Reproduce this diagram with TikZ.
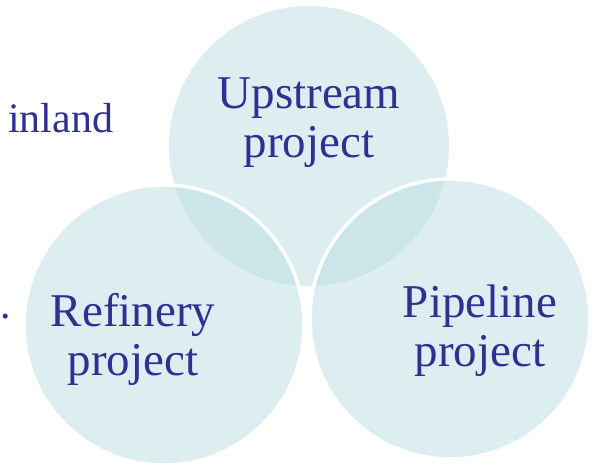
\documentclass[tikz,border=0pt]{standalone}
\usepackage{fontspec}
\setmainfont{Liberation Serif}
\definecolor{circfill}{HTML}{DCEEF0}
\definecolor{circover}{HTML}{CBE5E8}
\definecolor{txtblue}{HTML}{2E3192}
\begin{document}
\begin{tikzpicture}[x=1pt,y=-1pt,
  lbl/.style={inner sep=0pt, anchor=base, text=txtblue, font=\fontsize{47}{49}\selectfont},
  sidetxt/.style={inner sep=0pt, anchor=base west, text=txtblue, font=\fontsize{42}{46}\selectfont},
  ring/.style={draw=white, line width=3.5pt}]
\useasboundingbox (0,0) rectangle (594,467);
% circles
\fill[circfill] (309,146) circle[radius=140pt];
\fill[circfill] (164,325) circle[radius=140pt];
\fill[circfill] (450,319) circle[radius=140pt];
% overlaps
\begin{scope}
  \clip (309,146) circle[radius=140pt];
  \fill[circover] (164,325) circle[radius=140pt];
  \fill[circover] (450,319) circle[radius=140pt];
\end{scope}
% white borders
\draw[ring] (164,325) circle[radius=140pt];
\draw[ring] (450,319) circle[radius=140pt];
% labels
\node[lbl] (up) at (309,108) {\begin{tabular}[t]{@{}c@{}}Upstream\\project\end{tabular}};
\node[lbl] (ref) at (133,326) {\begin{tabular}[t]{@{}c@{}}Refinery\\project\end{tabular}};
\node[lbl] (pipe) at (480,317) {\begin{tabular}[t]{@{}c@{}}Pipeline\\project\end{tabular}};
\node[sidetxt] (inl) at (8,132) {inland};
\node[sidetxt] (dot) at (0.5,318) {.};
\end{tikzpicture}
\end{document}
